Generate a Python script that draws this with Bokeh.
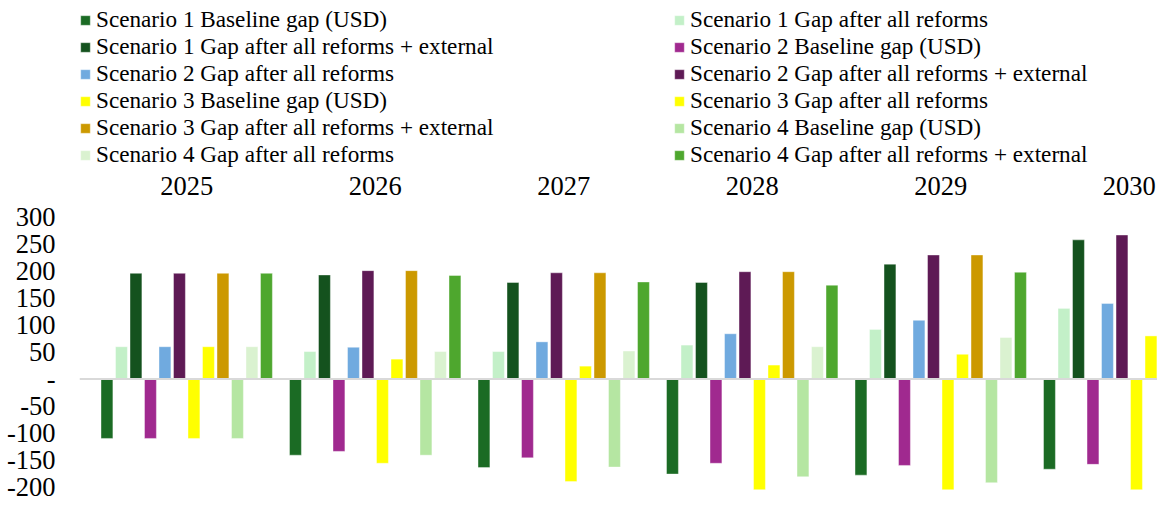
from bokeh.plotting import figure
from bokeh.models import (Range1d, FixedTicker, Legend, LegendItem, LabelSet,
                          Span, ColumnDataSource)
from bokeh.embed import file_html
from bokeh.resources import INLINE

years = ["2025", "2026", "2027", "2028", "2029", "2030"]

series_names = [
    "Scenario 1 Baseline gap (USD)",
    "Scenario 1 Gap after all reforms",
    "Scenario 1 Gap after all reforms + external",
    "Scenario 2 Baseline gap (USD)",
    "Scenario 2 Gap after all reforms",
    "Scenario 2 Gap after all reforms + external",
    "Scenario 3 Baseline gap (USD)",
    "Scenario 3 Gap after all reforms",
    "Scenario 3 Gap after all reforms + external",
    "Scenario 4 Baseline gap (USD)",
    "Scenario 4 Gap after all reforms",
    "Scenario 4 Gap after all reforms + external",
]

colors = ["#1b6b24", "#c3f0c8", "#14521e", "#a0298f", "#70aadf", "#5e1a55",
          "#ffff00", "#ffff00", "#cc9900", "#b5e6a2", "#daf2d0", "#4ea72e"]

s1_baseline = [-110, -141, -164, -176, -178, -167]
s1_reforms = [60, 51, 51, 63, 92, 131]
s1_external = [196, 193, 179, 179, 213, 258]
s2_baseline = [-110, -134, -146, -156, -160, -158]
s2_reforms = [60, 59, 69, 84, 109, 140]
s2_external = [196, 201, 197, 199, 230, 267]
s3_baseline = [-110, -156, -190, -205, -205, -205]
s3_reforms = [60, 37, 24, 26, 46, 80]
s3_external = [196, 201, 197, 199, 230, 267]
s4_baseline = [-110, -141, -163, -181, -192, -185]
s4_reforms = [60, 51, 52, 60, 77, 110]
s4_external = [196, 192, 180, 174, 198, 240]

series_values = [s1_baseline, s1_reforms, s1_external,
                 s2_baseline, s2_reforms, s2_external,
                 s3_baseline, s3_reforms, s3_external,
                 s4_baseline, s4_reforms, s4_external]

y_ticks = [300, 250, 200, 150, 100, 50, 0, -50, -100, -150, -200]
y_labels = ["300", "250", "200", "150", "100", "50", "-", "-50", "-100", "-150", "-200"]

FONT = "Liberation Serif"
YEAR_LABEL_Y = 342          # layout: data height of the year captions
n_series = len(series_names)
step = n_series + 1

p = figure(width=1157, height=502, output_backend="svg", toolbar_location=None,
           x_range=Range1d(-1.893, 72.45), y_range=Range1d(-228.7, 701.6),
           x_axis_location=None, y_axis_location="left",
           min_border_left=79, min_border_right=0, min_border_top=0,
           min_border_bottom=0)
p.outline_line_color = None
p.grid.visible = False
p.background_fill_color = "white"

yax = p.yaxis[0]
yax.ticker = FixedTicker(ticks=y_ticks)
yax.major_label_overrides = dict(zip(y_ticks, y_labels))
yax.axis_line_color = None
yax.major_tick_line_color = None
yax.minor_tick_line_color = None
yax.major_label_standoff = 18
yax.major_label_text_font = FONT
yax.major_label_text_font_size = "26.5px"
yax.major_label_text_color = "black"

centers = [g * step + (n_series - 1) / 2 for g in range(len(years))]
year_src = ColumnDataSource(dict(x=centers, y=[YEAR_LABEL_Y] * len(years), text=years))
p.add_layout(LabelSet(x="x", y="y", text="text", source=year_src,
                      text_align="center", text_baseline="alphabetic",
                      text_font=FONT, text_font_size="26.5px", text_color="black"))

items_left, items_right = [], []
for i, (name, col, vals) in enumerate(zip(series_names, colors, series_values)):
    src = ColumnDataSource(dict(x=[g * step + i for g in range(len(years))], top=vals))
    r = p.vbar(x="x", top="top", bottom=0, width=0.82, source=src,
               fill_color=col, line_color="white", line_alpha=0.5, line_width=0.8)
    (items_left if i % 2 == 0 else items_right).append(LegendItem(label=name, renderers=[r]))

p.add_layout(Span(location=0, dimension="width", line_color="#d9d9d9", line_width=2))

legend = Legend(items=items_left + items_right, orientation="vertical", ncols=2,
                location=(0, 334), margin=0, padding=0, spacing=0,
                glyph_width=12, glyph_height=12, label_standoff=5,
                label_width=577, label_text_font=FONT,
                label_text_font_size="23.2px", label_text_line_height=1.11,
                label_text_color="black",
                border_line_color=None, background_fill_alpha=0)
p.add_layout(legend, "center")

open("out.html", "w").write(file_html(p, INLINE))
